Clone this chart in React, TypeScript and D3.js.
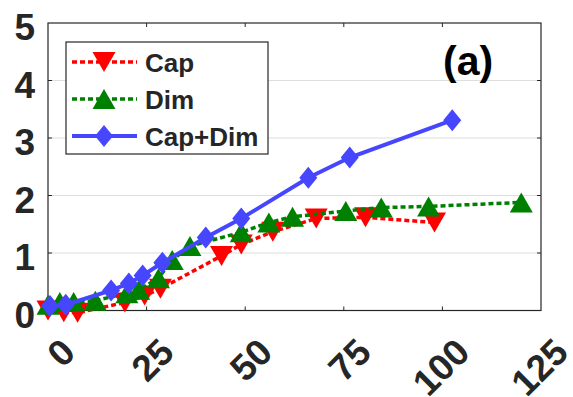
import React from "react";
import * as d3 from "d3";

const capX = [0, 4, 7.5, 19.5, 24.5, 28.5, 44, 49, 57, 68, 80.5, 98];
const capY = [0.0, -0.03, -0.04, 0.14, 0.26, 0.38, 0.95, 1.15, 1.37, 1.6, 1.62, 1.53];

const dimX = [0, 3, 6.5, 12, 20, 23, 28, 31.5, 36, 49, 56, 62, 75.5, 84.5, 96.5, 120];
const dimY = [0.1, 0.15, 0.15, 0.17, 0.3, 0.36, 0.56, 0.88, 1.12, 1.36, 1.53, 1.63, 1.73, 1.79, 1.81, 1.88];

const bothX = [0.5, 4.5, 16, 20.5, 24, 29, 40, 49, 66, 76.5, 102.5];
const bothY = [0.08, 0.1, 0.35, 0.47, 0.61, 0.83, 1.27, 1.6, 2.31, 2.66, 3.31];

const xTicks = [0, 25, 50, 75, 100, 125];
const yTicks = [0, 1, 2, 3, 4, 5];
const seriesNames = ["Cap", "Dim", "Cap+Dim"];
const panelLabel = "(a)";

const W = 573;
const H = 397;
const L = 48, R = 541, T = 23, B = 310.5;

const TXT = "#262626";
const RED = "#ff0000";
const GREEN = "#008000";
const BLUE = "#4646ff";
const FONT = "'Liberation Sans', Arial, Helvetica, sans-serif";

function triDown(cx: number, cy: number) {
  const w = 11.5, h = 10;
  return `M${cx - w},${cy - h}L${cx + w},${cy - h}L${cx},${cy + h}Z`;
}
function triUp(cx: number, cy: number) {
  const w = 11.5, h = 10;
  return `M${cx - w},${cy + h}L${cx + w},${cy + h}L${cx},${cy - h}Z`;
}
function diamond(cx: number, cy: number) {
  const w = 9, h = 11;
  return `M${cx},${cy - h}L${cx + w},${cy}L${cx},${cy + h}L${cx - w},${cy}Z`;
}

export default function App() {
  const x = d3.scaleLinear().domain([0, 125]).range([L, R]);
  const y = d3.scaleLinear().domain([0, 5]).range([B, T]);
  const line = d3.line<[number, number]>().x((d) => x(d[0])).y((d) => y(d[1])).curve(d3.curveLinear);

  const cap = capX.map((v, i) => [v, capY[i]] as [number, number]);
  const dim = dimX.map((v, i) => [v, dimY[i]] as [number, number]);
  const both = bothX.map((v, i) => [v, bothY[i]] as [number, number]);

  const legY = [62, 99, 136];
  const legendColors = [RED, GREEN, BLUE];

  return (
    <svg width={W} height={H} style={{ position: "absolute", left: 0, top: 0, background: "#fff" }}>
      <rect x={0} y={0} width={W} height={H} fill="#fff" />
      {/* gridlines */}
      {yTicks.filter((t) => t > 0 && t < 5).map((t) => (
        <line key={"g" + t} x1={L} x2={R} y1={y(t)} y2={y(t)} stroke="#dedede" strokeWidth={1.2} />
      ))}
      {/* ticks */}
      {xTicks.filter((t) => t > 0 && t < 125).map((t) => (
        <g key={"xt" + t}>
          <line x1={x(t)} x2={x(t)} y1={B} y2={B - 4} stroke={TXT} strokeWidth={1} />
          <line x1={x(t)} x2={x(t)} y1={T} y2={T + 4} stroke={TXT} strokeWidth={1} />
        </g>
      ))}
      {yTicks.filter((t) => t > 0 && t < 5).map((t) => (
        <g key={"yt" + t}>
          <line x1={L} x2={L + 4} y1={y(t)} y2={y(t)} stroke={TXT} strokeWidth={1} />
          <line x1={R} x2={R - 4} y1={y(t)} y2={y(t)} stroke={TXT} strokeWidth={1} />
        </g>
      ))}
      {/* box */}
      <rect x={L} y={T} width={R - L} height={B - T} fill="none" stroke={TXT} strokeWidth={1.2} />

      {/* series */}
      <path d={line(cap) || ""} fill="none" stroke={RED} strokeWidth={3.5} strokeDasharray="5 3" />
      {cap.map((d, i) => (
        <path key={"c" + i} d={triDown(x(d[0]), y(d[1]))} fill={RED} />
      ))}
      <path d={line(dim) || ""} fill="none" stroke={GREEN} strokeWidth={3.5} strokeDasharray="5 3" />
      {dim.map((d, i) => (
        <path key={"d" + i} d={triUp(x(d[0]), y(d[1]))} fill={GREEN} />
      ))}
      <path d={line(both) || ""} fill="none" stroke={BLUE} strokeWidth={4} />
      {both.map((d, i) => (
        <path key={"b" + i} d={diamond(x(d[0]), y(d[1]))} fill={BLUE} />
      ))}

      {/* y labels */}
      {yTicks.map((t) => (
        <text key={"yl" + t} x={35} y={y(t)} dy={17} textAnchor="end" fontFamily={FONT} fontWeight="bold" fontSize={37} fill={TXT}>
          {t}
        </text>
      ))}
      {/* x labels */}
      {xTicks.map((t) => (
        <text
          key={"xl" + t}
          transform={`translate(${x(t) + 20},${345}) rotate(-45)`}
          dy="0.36em"
          textAnchor="end"
          fontFamily={FONT}
          fontWeight="bold"
          fontSize={37}
          fill={TXT}
        >
          {t}
        </text>
      ))}

      {/* legend */}
      <rect x={66} y={42} width={202} height={112} fill="#fff" stroke={TXT} strokeWidth={1.2} />
      {seriesNames.map((n, i) => (
        <g key={"lg" + i}>
          <line x1={72} x2={137} y1={legY[i]} y2={legY[i]} stroke={legendColors[i]} strokeWidth={i === 2 ? 4 : 3.5} strokeDasharray={i === 2 ? undefined : "5 3"} />
          <path d={i === 0 ? triDown(104, legY[i]) : i === 1 ? triUp(104, legY[i]) : diamond(104, legY[i])} fill={legendColors[i]} />
          <text x={145} y={legY[i] + 9.5} fontFamily={FONT} fontWeight="bold" fontSize={26} fill={TXT}>
            {n}
          </text>
        </g>
      ))}

      <text x={443} y={75} fontFamily={FONT} fontWeight="bold" fontSize={41} fill="#000">
        {panelLabel}
      </text>
    </svg>
  );
}
